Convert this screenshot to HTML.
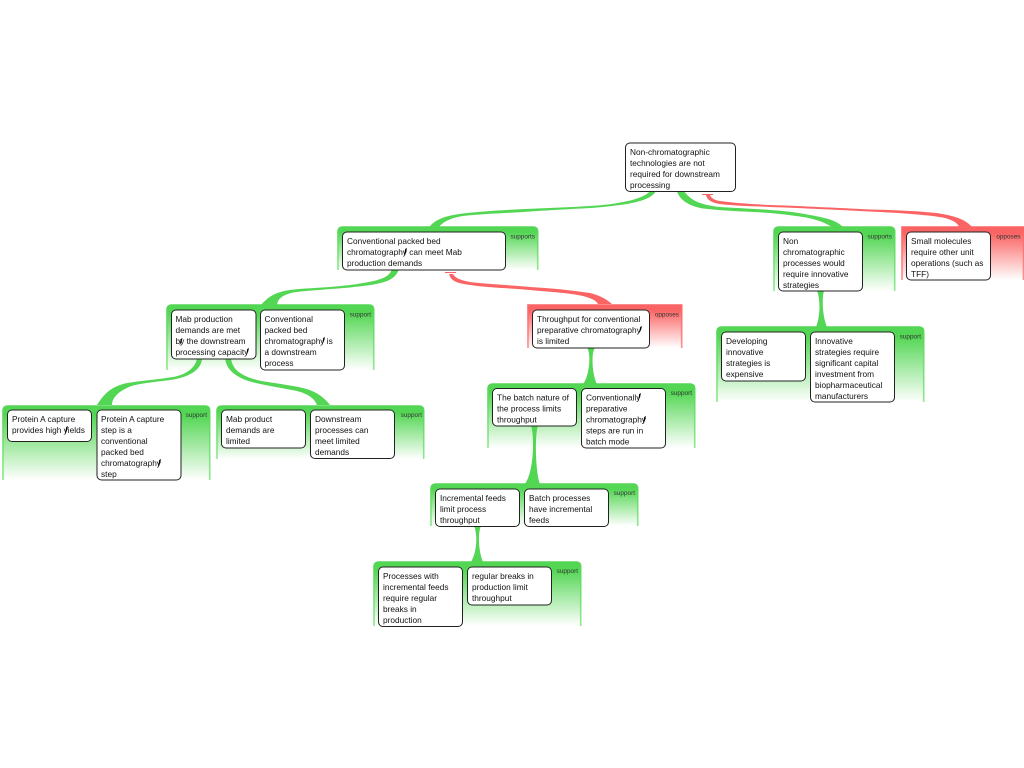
<!DOCTYPE html>
<html>
<head>
<meta charset="utf-8">
<style>
html,body{margin:0;padding:0;background:#fff;width:1024px;height:768px;overflow:hidden}
svg{display:block}
.n{font-family:"Liberation Sans",sans-serif;font-size:8.3px;fill:#111}
.l{font-family:"Liberation Sans",sans-serif;font-size:6.4px;fill:#333;text-anchor:end}
.b{fill:#fff;stroke:#222;stroke-width:1}
.pg{fill:url(#fg);stroke:url(#sg);stroke-width:1.6}
.pr{fill:url(#fr);stroke:url(#sr);stroke-width:1.6}
.cg{fill:#53d653}
.cr{fill:#fb6464}
.t{fill:#000}
</style>
</head>
<body>
<svg width="1024" height="768" viewBox="0 0 1024 768" xmlns="http://www.w3.org/2000/svg">
<defs>
<linearGradient id="fg" x1="0" y1="0" x2="0" y2="1"><stop offset="0" stop-color="#53d653"/><stop offset=".12" stop-color="#53d653"/><stop offset="1" stop-color="#fff"/></linearGradient>
<linearGradient id="sg" x1="0" y1="0" x2="0" y2="1"><stop offset="0" stop-color="#53d653"/><stop offset="1" stop-color="#8fe88f"/></linearGradient>
<linearGradient id="fr" x1="0" y1="0" x2="0" y2="1"><stop offset="0" stop-color="#fb6464"/><stop offset=".12" stop-color="#fb6464"/><stop offset="1" stop-color="#fff"/></linearGradient>
<linearGradient id="sr" x1="0" y1="0" x2="0" y2="1"><stop offset="0" stop-color="#fb6464"/><stop offset="1" stop-color="#fb8f8f"/></linearGradient>
</defs>

<!-- panels -->
<path class="pg" d="M338,270V232Q338,227 343,227H533Q537.7,227 537.7,232V270"/>
<path class="pg" d="M774,291V232Q774,227 779,227H890Q894.7,227 894.7,232V291"/>
<path class="pr" d="M902,280V227H1023.5V280"/>
<path class="pg" d="M167,370V310Q167,305 172,305H369Q373.7,305 373.7,310V370"/>
<path class="pr" d="M528,348V305H681.7V348"/>
<path class="pg" d="M3,480V411Q3,406 8,406H205Q209.7,406 209.7,411V480"/>
<path class="pg" d="M217,459V411Q217,406 222,406H419Q423.7,406 423.7,411V459"/>
<path class="pg" d="M488,448V389Q488,384 493,384H690Q694.7,384 694.7,389V448"/>
<path class="pg" d="M431,526V489Q431,484 436,484H633Q637.7,484 637.7,489V526"/>
<path class="pg" d="M374,626V567Q374,562 379,562H576Q580.7,562 580.7,567V626"/>
<path class="pg" d="M717,402V332Q717,327 722,327H919Q923.7,327 923.7,332V402"/>

<!-- connectors -->
<path class="cg" d="M650,191C645,198 625,203 597,205.5C570,207.5 530,208.5 497,210.5C470,212.5 450,214 440,219C435,221 432,224 429,227L439,227C443,222 450,218 463,216C480,214 510,213 530,211.5C560,209.5 585,208.5 597,207.5C625,205 650,202 656,191Z"/>
<path class="cg" d="M677,191C679,199 688,206 703,208.5C720,210.5 735,211 753,212C775,213 790,215 803,217C815,219 824,222 832,227L843,227C836,220 826,218 810,215C795,212 785,211 770,210C750,208.5 735,208 720,207C705,205.5 691,202 684,191Z"/>
<path class="cr" d="M706,195C707,200 712,203 720,204C735,206 750,206 770,207C800,208 840,210 870,211.5C900,213 930,215 945,218C952,220 958,223 959,227L972,227C965,219 955,216 937,213C915,211 895,210 870,209.5C840,208 800,206 770,205C750,204 735,203 720,201C714,200 711,198 710,195Z"/>
<rect class="cr" x="702" y="194" width="11" height="1"/>
<path class="cg" d="M392,269C389,278 380,281 350,285C325,288 305,288 290,290C275,292 268,297 261,305L277,305C278,298 283,295 293,292.5C310,290 330,289.5 350,287.5C380,284.5 395,282 399,269Z"/>
<path class="cr" d="M449,274C451,281 456,283 470,285C490,288 510,288 530,290C550,292 570,293 583,296C590,298 596,300 598,304L612,304C605,298 598,295 590,293C570,290 550,288 530,287C510,285 485,284 470,282C460,280 455,278 453,274Z"/>
<rect class="cr" x="445" y="272" width="11" height="1"/>
<path class="cg" d="M197,358C196,368 185,375 173,377C155,380 135,381 123,384C110,388 104,394 97,405L112,405C112,397 120,390 133,385.5C150,381.5 170,381 180,378C192,375 202,368 202,358Z"/>
<path class="cg" d="M225,358C226,367 232,376 250,381.5C265,385.5 282,388 297,391C308,394 314,398 317,405L330,405C323,396 315,391 303,388C285,384 270,383 257,380C242,376 232,370 231,358Z"/>
<path class="cg" d="M587,348C591,352 590,375 583,384L597,384C592,375 591,352 595,348Z"/>
<path class="cg" d="M531,426C534,432 535,470 525,484L540,484C535,470 535,432 538,426Z"/>
<path class="cg" d="M474,526C477,532 478,550 471,562L483,562C478,550 478,532 481,526Z"/>
<path class="cg" d="M817,291C820,297 821,315 816,327L827,327C822,315 822,297 824,291Z"/>

<!-- panel labels -->
<text class="l" x="535" y="238.5">supports</text>
<text class="l" x="892" y="238.5">supports</text>
<text class="l" x="1020.5" y="238.5">opposes</text>
<text class="l" x="371" y="316.5">support</text>
<text class="l" x="679" y="316.5">opposes</text>
<text class="l" x="207" y="417">support</text>
<text class="l" x="422" y="417">support</text>
<text class="l" x="692" y="395">support</text>
<text class="l" x="635" y="495">support</text>
<text class="l" x="578" y="573">support</text>
<text class="l" x="921" y="338.5">support</text>

<!-- boxes -->
<rect class="b" x="625.5" y="143" width="110" height="48.5" rx="4.5"/>
<rect class="b" x="342.5" y="232" width="163" height="38" rx="4.5"/>
<rect class="b" x="778.5" y="232" width="84" height="59" rx="4.5"/>
<rect class="b" x="906.5" y="232" width="84" height="48" rx="4.5"/>
<rect class="b" x="171.5" y="310" width="84.5" height="49" rx="4.5"/>
<rect class="b" x="260.5" y="310" width="84" height="60" rx="4.5"/>
<rect class="b" x="532.5" y="310" width="117" height="38" rx="4.5"/>
<rect class="b" x="7.5" y="410" width="84" height="31.5" rx="4.5"/>
<rect class="b" x="97" y="410" width="84" height="70" rx="4.5"/>
<rect class="b" x="221.5" y="410" width="84" height="38" rx="4.5"/>
<rect class="b" x="310.5" y="410" width="84" height="48.5" rx="4.5"/>
<rect class="b" x="492.5" y="388.5" width="84" height="37.5" rx="4.5"/>
<rect class="b" x="581.5" y="388.5" width="84" height="59.5" rx="4.5"/>
<rect class="b" x="435.5" y="489" width="84" height="37.5" rx="4.5"/>
<rect class="b" x="524.5" y="489" width="84" height="37.5" rx="4.5"/>
<rect class="b" x="378.5" y="567" width="84" height="59.5" rx="4.5"/>
<rect class="b" x="467.5" y="567" width="84" height="38" rx="4.5"/>
<rect class="b" x="721.5" y="332" width="84" height="49" rx="4.5"/>
<rect class="b" x="810.5" y="332" width="84" height="70" rx="4.5"/>

<!-- node text -->
<text class="n" y="155"><tspan x="630">Non-chromatographic</tspan><tspan x="630" dy="11">technologies are not</tspan><tspan x="630" dy="11">required for downstream</tspan><tspan x="630" dy="11">processing</tspan></text>
<text class="n" y="244"><tspan x="347">Conventional packed bed</tspan><tspan x="347" dy="11">chromatography can meet Mab</tspan><tspan x="347" dy="11">production demands</tspan></text>
<text class="n" y="244"><tspan x="783">Non</tspan><tspan x="783" dy="11">chromatographic</tspan><tspan x="783" dy="11">processes would</tspan><tspan x="783" dy="11">require innovative</tspan><tspan x="783" dy="11">strategies</tspan></text>
<text class="n" y="244"><tspan x="911">Small molecules</tspan><tspan x="911" dy="11">require other unit</tspan><tspan x="911" dy="11">operations (such as</tspan><tspan x="911" dy="11">TFF)</tspan></text>
<text class="n" y="322"><tspan x="175.5">Mab production</tspan><tspan x="175.5" dy="11">demands are met</tspan><tspan x="175.5" dy="11">by the downstream</tspan><tspan x="175.5" dy="11">processing capacity</tspan></text>
<text class="n" y="322"><tspan x="264.5">Conventional</tspan><tspan x="264.5" dy="11">packed bed</tspan><tspan x="264.5" dy="11">chromatography is</tspan><tspan x="264.5" dy="11">a downstream</tspan><tspan x="264.5" dy="11">process</tspan></text>
<text class="n" y="322"><tspan x="537">Throughput for conventional</tspan><tspan x="537" dy="11">preparative chromatography</tspan><tspan x="537" dy="11">is limited</tspan></text>
<text class="n" y="422"><tspan x="12">Protein A capture</tspan><tspan x="12" dy="11">provides high yields</tspan></text>
<text class="n" y="422"><tspan x="101">Protein A capture</tspan><tspan x="101" dy="11">step is a</tspan><tspan x="101" dy="11">conventional</tspan><tspan x="101" dy="11">packed bed</tspan><tspan x="101" dy="11">chromatography</tspan><tspan x="101" dy="11">step</tspan></text>
<text class="n" y="422"><tspan x="226">Mab product</tspan><tspan x="226" dy="11">demands are</tspan><tspan x="226" dy="11">limited</tspan></text>
<text class="n" y="422"><tspan x="315">Downstream</tspan><tspan x="315" dy="11">processes can</tspan><tspan x="315" dy="11">meet limited</tspan><tspan x="315" dy="11">demands</tspan></text>
<text class="n" y="400.5"><tspan x="497">The batch nature of</tspan><tspan x="497" dy="11">the process limits</tspan><tspan x="497" dy="11">throughput</tspan></text>
<text class="n" y="400.5"><tspan x="586">Conventionally</tspan><tspan x="586" dy="11">preparative</tspan><tspan x="586" dy="11">chromatography</tspan><tspan x="586" dy="11">steps are run in</tspan><tspan x="586" dy="11">batch mode</tspan></text>
<text class="n" y="501"><tspan x="440">Incremental feeds</tspan><tspan x="440" dy="11">limit process</tspan><tspan x="440" dy="11">throughput</tspan></text>
<text class="n" y="501"><tspan x="529">Batch processes</tspan><tspan x="529" dy="11">have incremental</tspan><tspan x="529" dy="11">feeds</tspan></text>
<text class="n" y="579"><tspan x="383">Processes with</tspan><tspan x="383" dy="11">incremental feeds</tspan><tspan x="383" dy="11">require regular</tspan><tspan x="383" dy="11">breaks in</tspan><tspan x="383" dy="11">production</tspan></text>
<text class="n" y="579"><tspan x="472">regular breaks in</tspan><tspan x="472" dy="11">production limit</tspan><tspan x="472" dy="11">throughput</tspan></text>
<text class="n" y="344"><tspan x="726">Developing</tspan><tspan x="726" dy="11">innovative</tspan><tspan x="726" dy="11">strategies is</tspan><tspan x="726" dy="11">expensive</tspan></text>
<text class="n" y="344"><tspan x="815">Innovative</tspan><tspan x="815" dy="11">strategies require</tspan><tspan x="815" dy="11">significant capital</tspan><tspan x="815" dy="11">investment from</tspan><tspan x="815" dy="11">biopharmaceutical</tspan><tspan x="815" dy="11">manufacturers</tspan></text>

<!-- dark stroke marks on the letter y, as seen in the reference -->
<path class="t" transform="translate(405,252)" d="M2,-4L.2,-3L-.3,0L-1,3.5L1,0Z"/>
<path class="t" transform="translate(640,330)" d="M2,-4L.2,-3L-.3,0L-1,3.5L1,0Z"/>
<path class="t" transform="translate(180.5,342)" d="M2,-4L.2,-3L-.3,0L-1,3.5L1,0Z"/>
<path class="t" transform="translate(247,352)" d="M2,-4L.2,-3L-.3,0L-1,3.5L1,0Z"/>
<path class="t" transform="translate(323,341)" d="M2,-4L.2,-3L-.3,0L-1,3.5L1,0Z"/>
<path class="t" transform="translate(66,430)" d="M2,-4L.2,-3L-.3,0L-1,3.5L1,0Z"/>
<path class="t" transform="translate(159,463)" d="M2,-4L.2,-3L-.3,0L-1,3.5L1,0Z"/>
<path class="t" transform="translate(639,397)" d="M2,-4L.2,-3L-.3,0L-1,3.5L1,0Z"/>
<path class="t" transform="translate(644,420)" d="M2,-4L.2,-3L-.3,0L-1,3.5L1,0Z"/>
</svg>
</body>
</html>
